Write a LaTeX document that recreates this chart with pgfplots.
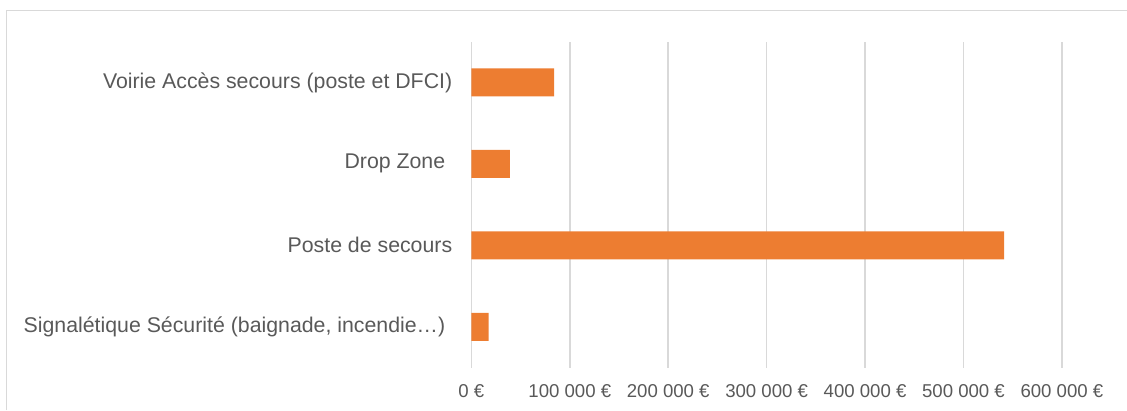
\documentclass[border=0pt]{standalone}
\usepackage{pgfplots}
\pgfplotsset{compat=1.18}
\usepackage{fontspec}
\setmainfont{Liberation Sans}
\definecolor{barorange}{HTML}{ED7D31}
\definecolor{gridgray}{HTML}{D9D9D9}
\definecolor{txtgray}{HTML}{595959}
\begin{document}
\begin{tikzpicture}[x=1pt,y=1pt]
\useasboundingbox (0,0) rectangle (1127,410);
\draw[gridgray, line width=1.5pt] (6.5,0) -- (6.5,399.5) -- (1130,399.5);
\begin{axis}[
  at={(479,52)}, anchor=south west,
  scale only axis, width=590.5pt, height=326pt,
  xbar, bar width=28pt,
  xmin=0, xmax=600000, ymin=-0.5, ymax=3.5,
  axis line style={draw=none},
  major tick length=0pt,
  xmajorgrids, grid style={gridgray, line width=1.5pt},
  xtick={0,100000,200000,300000,400000,500000,600000},
  xticklabels={0 €,100 000 €,200 000 €,300 000 €,400 000 €,500 000 €,600 000 €},
  ytick={0,1,2,3},
  yticklabels={{Signalétique Sécurité (baignade, incendie…)\rule{7pt}{0pt}},Poste de secours,{Drop Zone\rule{7pt}{0pt}},Voirie Accès secours (poste et DFCI)},
  every tick label/.append style={text=txtgray, inner sep=0pt},
  yticklabel style={anchor=east, xshift=-19pt, font=\fontsize{21.3}{24}\selectfont},
  xticklabel style={anchor=north, yshift=-16.5pt, font=\fontsize{18.6}{22}\selectfont},
  scaled x ticks=false,
  clip=false,
]
\addplot[fill=barorange, draw=none] coordinates {
  (17500,0) (541200,1) (39100,2) (84100,3)
};
\end{axis}
\end{tikzpicture}
\end{document}
